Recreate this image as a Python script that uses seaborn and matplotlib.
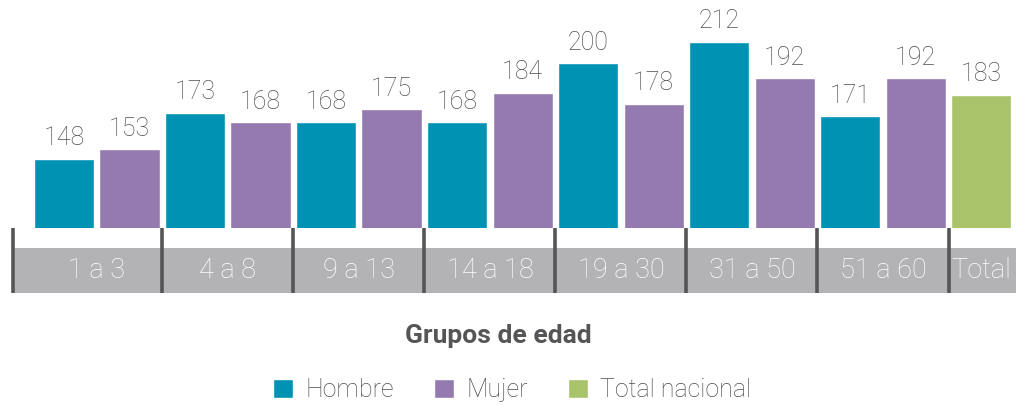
import pandas as pd
import matplotlib
matplotlib.use("Agg")
import matplotlib.pyplot as plt
import matplotlib.transforms as mtransforms
from matplotlib.patches import Rectangle
import seaborn as sns

# datos
grupos = ["1 a 3", "4 a 8", "9 a 13", "14 a 18", "19 a 30", "31 a 50", "51 a 60"]
hombre = [148, 173, 168, 168, 200, 212, 171]
mujer = [153, 168, 175, 184, 178, 192, 192]
total_nacional = 183

colores = {"Hombre": "#0092b2", "Mujer": "#957ab0", "Total nacional": "#a9c36b"}
gris_texto = "#4e4e50"

filas = []
for g, h, m in zip(grupos, hombre, mujer):
    filas.append({"barra": g + " H", "grupo": g, "serie": "Hombre", "valor": h})
    filas.append({"barra": g + " M", "grupo": g, "serie": "Mujer", "valor": m})
filas.append({"barra": "Total", "grupo": "Total", "serie": "Total nacional", "valor": total_nacional})
df = pd.DataFrame(filas)

sns.set_style("white")
plt.rcParams["font.family"] = ["Roboto", "DejaVu Sans"]

fig = plt.figure(figsize=(10.16, 4.05), dpi=100)
ax = fig.add_axes([0, (405 - 228) / 405, 1, 228 / 405])

sns.barplot(data=df, x="barra", y="valor", hue="serie", palette=colores,
            dodge=False, width=0.92, order=list(df["barra"]), errorbar=None,
            saturation=1, ax=ax)

ax.set_ylim(110, 234.7)
ax.set_xlim(-0.977, 14.53)

for cont in ax.containers:
    ax.bar_label(cont, padding=6, fontsize=18, color=gris_texto, fontweight="light")

# banda gris con los grupos de edad
trans = mtransforms.blended_transform_factory(ax.transData, ax.transAxes)
ax.add_patch(Rectangle((-0.78, -0.285), 15.5, 0.197, transform=trans,
                       facecolor="#b3b3b5", edgecolor="none", clip_on=False))

n = len(grupos)
bordes = [-0.78] + [2 * i + 1.5 for i in range(n)]
for b in bordes:
    ax.plot([b, b], [0, -0.285], transform=trans, color="#555557", lw=2.6,
            clip_on=False, solid_capstyle="butt")

centros = [2 * i + 0.5 for i in range(n)] + [2 * n]
etiquetas = grupos + ["Total"]
for c, t in zip(centros, etiquetas):
    ax.text(c, -0.188, t, transform=trans, ha="center", va="center",
            fontsize=19.5, color="white", fontweight="light")

handles, labels = ax.get_legend_handles_labels()
ax.get_legend().remove()
ax.axis("off")

fig.text(0.49, 1 - 336 / 405, "Grupos de edad", ha="center", va="center",
         fontsize=19, fontweight="bold", color="#555557")

leg = fig.legend(handles, labels, loc="center", bbox_to_anchor=(0.504, 1 - 390 / 405),
                 ncol=3, frameon=False, fontsize=18, handlelength=0.8, handleheight=0.8,
                 columnspacing=1.6, handletextpad=0.5, labelcolor=gris_texto)
for t in leg.get_texts():
    t.set_fontweight("light")

fig.savefig("out.png", dpi=100)
